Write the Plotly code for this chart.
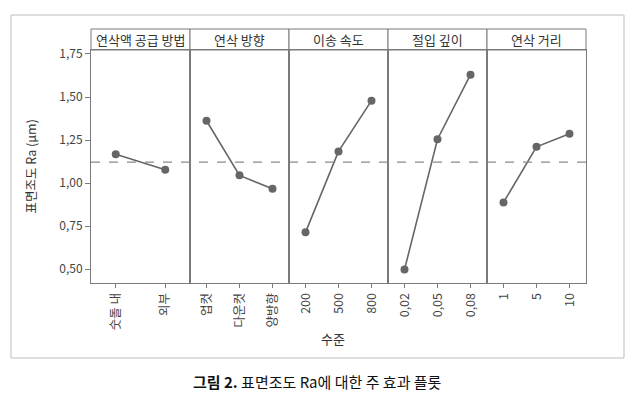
import plotly.graph_objects as go
from plotly.subplots import make_subplots

factors = ["연삭액 공급 방법", "연삭 방향", "이송 속도", "절입 깊이", "연삭 거리"]
levels = [
    ["숫돌 내", "외부"],
    ["업컷", "다운컷", "양방향"],
    ["200", "500", "800"],
    ["0,02", "0,05", "0,08"],
    ["1", "5", "10"],
]
means = [
    [1.168, 1.077],
    [1.362, 1.045, 0.967],
    [0.714, 1.184, 1.479],
    [0.498, 1.255, 1.630],
    [0.888, 1.211, 1.286],
]
grand_mean = 1.122
y_ticks = [0.50, 0.75, 1.00, 1.25, 1.50, 1.75]
y_title = "표면조도 Ra (μm)"
x_title = "수준"
caption = "<b>그림 2.</b> 표면조도 Ra에 대한 주 효과 플롯"

FONT = "Noto Sans CJK KR"
OFF = 8  # page body margin
W, H = 638 - OFF, 396 - OFF
ML, MT = 91 - OFF, 50 - OFF
MR = W - (586 - OFF)
MB = H - (283 - OFF)
PW = W - ML - MR
PH = H - MT - MB
BOTTOM = 283  # plot bottom in window pixels


def px_x(x):
    return (x - 91) / PW


def px_y(y):
    return -(y - BOTTOM) / PH


fig = make_subplots(rows=1, cols=5, shared_yaxes=True, horizontal_spacing=0)

line_col = "#666666"
axis_col = "#7a7a7a"

for i, (lv, mv) in enumerate(zip(levels, means)):
    col = i + 1
    xs = list(range(len(lv)))
    fig.add_trace(go.Scatter(
        x=xs, y=mv, mode="lines+markers",
        line=dict(color=line_col, width=1.6),
        marker=dict(color=line_col, size=8),
        showlegend=False, hoverinfo="skip"), row=1, col=col)
    fig.update_xaxes(
        range=[-0.5, len(lv) - 0.5], tickvals=xs, ticktext=lv, tickangle=-90,
        ticks="outside", ticklen=4, tickcolor=axis_col, showgrid=False,
        zeroline=False, showline=True, mirror=True, linecolor=axis_col, linewidth=1,
        tickfont=dict(family=FONT, size=12.5, color="#444"),
        row=1, col=col)
    xref = "x domain" if col == 1 else f"x{col} domain"
    fig.add_shape(type="rect", xref=xref, yref="paper", x0=0, x1=1,
                  y0=1, y1=1 + 21 / PH, line=dict(color=axis_col, width=1),
                  fillcolor="white", layer="below")
    fig.add_annotation(xref=xref, yref="paper", x=0.5, y=1 + 10.5 / PH,
                       text=factors[i], showarrow=False,
                       font=dict(family=FONT, size=13, color="#333"),
                       xanchor="center", yanchor="middle")

fig.update_yaxes(range=[0.42, 1.773], tickvals=y_ticks,
                 ticktext=[f"{v:.2f}".replace(".", ",") for v in y_ticks],
                 ticks="", showgrid=False, zeroline=False,
                 showline=True, mirror=True, linecolor=axis_col, linewidth=1,
                 tickfont=dict(family=FONT, size=12, color="#444"))
fig.update_yaxes(ticks="outside", ticklen=5, tickcolor=axis_col, row=1, col=1)

fig.add_shape(type="line", xref="paper", yref="y", x0=0, x1=1,
              y0=grand_mean, y1=grand_mean,
              line=dict(color="#8a8a8a", width=1.2, dash="dash"))

fig.add_shape(type="rect", xref="paper", yref="paper",
              x0=px_x(11), x1=px_x(624), y0=px_y(358), y1=px_y(15),
              line=dict(color="#bdbdbd", width=1), layer="below")

fig.add_annotation(xref="paper", yref="paper", x=px_x(30), y=0.5,
                   text=y_title, textangle=-90, showarrow=False,
                   font=dict(family=FONT, size=12.5, color="#333"),
                   xanchor="center", yanchor="middle")
fig.add_annotation(xref="paper", yref="paper", x=px_x(333), y=px_y(338),
                   text=x_title, showarrow=False,
                   font=dict(family=FONT, size=13, color="#333"),
                   xanchor="center", yanchor="middle")
fig.add_annotation(xref="paper", yref="paper", x=px_x(317), y=px_y(381),
                   text=caption, showarrow=False,
                   font=dict(family=FONT, size=15, color="#111"),
                   xanchor="center", yanchor="middle")

fig.update_layout(width=W, height=H, margin=dict(l=ML, r=MR, t=MT, b=MB),
                  plot_bgcolor="white", paper_bgcolor="white",
                  font=dict(family=FONT))

fig.write_html("out.html")
